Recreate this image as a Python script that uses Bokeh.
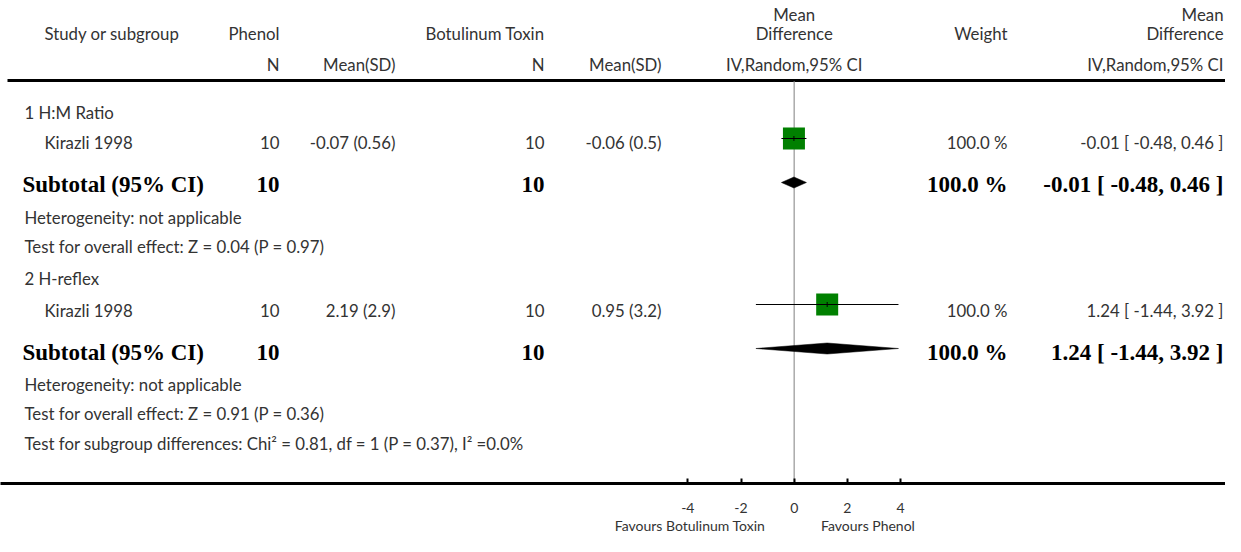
import math
from bokeh.plotting import figure
from bokeh.models import Range1d, ColumnDataSource, FixedTicker, LinearAxis
from bokeh.core.properties import value
from bokeh.embed import file_html
from bokeh.resources import INLINE

# ---------------- data ----------------
subgroups = ["1 H:M Ratio", "2 H-reflex"]
studies = ["Kirazli 1998", "Kirazli 1998"]
phenol_n = [10, 10]
phenol_mean = [-0.07, 2.19]
phenol_sd = [0.56, 2.9]
botox_n = [10, 10]
botox_mean = [-0.06, 0.95]
botox_sd = [0.5, 3.2]
md = [-0.01, 1.24]
md_lo = [-0.48, -1.44]
md_hi = [0.46, 3.92]
weights = [100.0, 100.0]
sub_phenol_n = [10, 10]
sub_botox_n = [10, 10]
sub_md = [-0.01, 1.24]
sub_lo = [-0.48, -1.44]
sub_hi = [0.46, 3.92]
sub_weights = [100.0, 100.0]
heterogeneity = ["Heterogeneity: not applicable", "Heterogeneity: not applicable"]
overall_effect = ["Test for overall effect: Z = 0.04 (P = 0.97)",
                  "Test for overall effect: Z = 0.91 (P = 0.36)"]
subgroup_test = "Test for subgroup differences: Chi\u00b2 = 0.81, df = 1 (P = 0.37), I\u00b2 =0.0%"
axis_ticks = [-4, -2, 0, 2, 4]
favours = ["Favours Botulinum Toxin", "Favours Phenol"]

# ---------------- layout ----------------
PX0 = 793.7     # pixel of zero
PPU = 26.6      # pixels per unit


def dx(px):
    return (px - PX0) / PPU


W, H = 1225, 536
FRAME_BOTTOM = 483
SANS = "Lato"
SERIF = "Liberation Serif"
GREY = "#333333"
SMALL = "16.8px"
BOLD = "23px"

p = figure(width=W, height=H, output_backend="svg", toolbar_location=None,
           x_range=Range1d(dx(0), dx(W)), y_range=Range1d(FRAME_BOTTOM, 0),
           y_axis_location=None, min_border_left=0, min_border_right=0,
           min_border_top=0, min_border_bottom=H - FRAME_BOTTOM)
p.grid.visible = False
p.outline_line_color = None
p.background_fill_color = "white"
p.border_fill_color = "white"

ax = p.xaxis[0]
ax.ticker = FixedTicker(ticks=axis_ticks)
ax.major_label_overrides = {t: str(t) for t in axis_ticks}
ax.major_tick_in = 5
ax.major_tick_out = 0
ax.minor_tick_in = 0
ax.minor_tick_out = 0
ax.axis_line_width = 3
ax.axis_line_color = "black"
ax.major_tick_line_width = 2
ax.major_tick_line_color = "black"
ax.major_label_standoff = 19
ax.major_label_text_font = SANS
ax.major_label_text_font_size = "14px"
ax.major_label_text_color = GREY

# second (label-only) axis below for the "Favours" captions, on its own range
# so that caption i sits at integer position i+1
FAV_PX = [689.5, 867.5]
fav_ppu = FAV_PX[1] - FAV_PX[0]
fav_start = 1 - FAV_PX[0] / fav_ppu
p.extra_x_ranges = {"fav": Range1d(fav_start, fav_start + W / fav_ppu)}
fav_axis = LinearAxis(x_range_name="fav", ticker=FixedTicker(ticks=[1, 2]),
                      major_label_overrides={i + 1: t for i, t in enumerate(favours)},
                      axis_line_color=None, major_tick_line_color=None,
                      minor_tick_line_color=None, major_tick_in=0, major_tick_out=0,
                      minor_tick_in=0, minor_tick_out=0, major_label_standoff=1,
                      major_label_text_font=SANS, major_label_text_font_size="14px",
                      major_label_text_color=GREY)
p.add_layout(fav_axis, "below")


def add_text(xs, ys, texts, align, font=SANS, size=SMALL, style="normal", color=GREY):
    src = ColumnDataSource(dict(x=xs, y=ys, text=texts))
    p.text(x="x", y="y", text="text", source=src, text_align=align,
           text_baseline="middle", text_font=value(font), text_font_size=size,
           text_font_style=style, text_color=color)


# rows (pixel rows from top)
Y_H1, Y_H2, Y_H3, Y_LINE = 14, 33, 64, 80
grp_title_y = [112, 278]
study_y = [142, 310]
mark_y = [138, 304]
sub_y = [184, 352]
diam_y = [182, 348]
het_y = [217, 384]
ov_y = [246, 413]
Y_SUBTEST = 443

X_TITLE = 24
X_STUDY = 44
X_PN = 279
X_PM = 395
X_BN = 544
X_BM = 661
X_WT = 1007
X_EFF = 1223

# headers
add_text([dx(X_STUDY)], [Y_H2], ["Study or subgroup"], "left")
add_text([dx(X_PN), dx(X_BN), dx(X_WT), dx(X_PN), dx(X_PM), dx(X_BN), dx(X_BM),
          dx(X_EFF), dx(X_EFF), dx(X_EFF)],
         [Y_H2, Y_H2, Y_H2, Y_H3, Y_H3, Y_H3, Y_H3, Y_H1, Y_H2, Y_H3],
         ["Phenol", "Botulinum Toxin", "Weight", "N", "Mean(SD)", "N", "Mean(SD)",
          "Mean", "Difference", "IV,Random,95% CI"], "right")
add_text([0, 0, 0], [Y_H1, Y_H2, Y_H3], ["Mean", "Difference", "IV,Random,95% CI"], "center")

# header rule and zero line
p.segment(x0=[dx(7)], y0=[Y_LINE], x1=[dx(W + 5)], y1=[Y_LINE], line_color="black", line_width=3)
p.segment(x0=[0], y0=[Y_LINE + 1], x1=[0], y1=[FRAME_BOTTOM], line_color="#aaaaaa", line_width=1.5)

# group rows
add_text([dx(X_TITLE)] * 2, grp_title_y, subgroups, "left")
add_text([dx(X_STUDY)] * 2, study_y, studies, "left")
add_text([dx(X_PN)] * 2, study_y, [str(n) for n in phenol_n], "right")
add_text([dx(X_PM)] * 2, study_y, [f"{m:.2f} ({s:g})" for m, s in zip(phenol_mean, phenol_sd)], "right")
add_text([dx(X_BN)] * 2, study_y, [str(n) for n in botox_n], "right")
add_text([dx(X_BM)] * 2, study_y, [f"{m:.2f} ({s:g})" for m, s in zip(botox_mean, botox_sd)], "right")
add_text([dx(X_WT)] * 2, study_y, [f"{w:.1f} %" for w in weights], "right")
add_text([dx(X_EFF)] * 2, study_y,
         [f"{m:.2f} [ {a:.2f}, {b:.2f} ]" for m, a, b in zip(md, md_lo, md_hi)], "right")

add_text([dx(22)] * 2, sub_y, ["Subtotal (95% CI)"] * 2, "left", SERIF, BOLD, "bold", "black")
add_text([dx(X_PN)] * 2, sub_y, [str(n) for n in sub_phenol_n], "right", SERIF, BOLD, "bold", "black")
add_text([dx(X_BN)] * 2, sub_y, [str(n) for n in sub_botox_n], "right", SERIF, BOLD, "bold", "black")
add_text([dx(X_WT)] * 2, sub_y, [f"{w:.1f} %" for w in sub_weights], "right", SERIF, BOLD, "bold", "black")
add_text([dx(X_EFF)] * 2, sub_y,
         [f"{m:.2f} [ {a:.2f}, {b:.2f} ]" for m, a, b in zip(sub_md, sub_lo, sub_hi)],
         "right", SERIF, BOLD, "bold", "black")

add_text([dx(X_TITLE)] * 2, het_y, heterogeneity, "left")
add_text([dx(X_TITLE)] * 2, ov_y, overall_effect, "left")
add_text([dx(X_TITLE)], [Y_SUBTEST], [subgroup_test], "left")

# study marks
p.scatter(x=md, y=mark_y, marker="square", size=22, fill_color="#008000", line_color=None)
p.segment(x0=md_lo, y0=mark_y, x1=md_hi, y1=mark_y, line_color="black", line_width=1.2)
p.scatter(x=md, y=mark_y, marker="dash", angle=math.pi / 2, size=5, line_color="black", line_width=1)

# subtotal diamonds
DH = 5.5
p.patches(xs=[[a, m, b, m] for a, m, b in zip(sub_lo, sub_md, sub_hi)],
          ys=[[y, y - DH, y, y + DH] for y in diam_y],
          fill_color="black", line_color="black", line_width=0.5)

open("out.html", "w").write(file_html(p, INLINE, "forest plot"))
